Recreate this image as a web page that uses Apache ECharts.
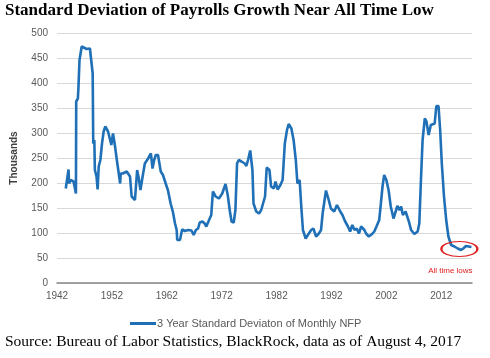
<!DOCTYPE html>
<html><head><meta charset="utf-8">
<script src="https://cdn.jsdelivr.net/npm/echarts@6/dist/echarts.min.js"></script>
<style>html,body{margin:0;padding:0;background:#fff}#c{width:490px;height:358px}</style>
</head><body><div id="c"></div>
<script>
const years = [1943.6,1944.1,1944.2,1944.5,1945.0,1945.2,1945.45,1945.5,1945.8,1945.9,1946.1,1946.5,1946.8,1947.4,1948.0,1948.3,1948.5,1948.6,1948.8,1948.9,1949.2,1949.4,1949.6,1949.9,1950.2,1950.5,1950.8,1951.3,1951.6,1951.9,1952.2,1952.5,1952.9,1953.2,1953.5,1953.6,1954.0,1954.7,1955.0,1955.3,1955.6,1956.2,1956.5,1956.6,1956.9,1957.2,1957.6,1958.0,1958.3,1958.6,1959.1,1959.4,1959.7,1960.0,1960.4,1960.9,1961.3,1961.8,1962.2,1962.7,1963.1,1963.5,1963.8,1963.9,1964.4,1964.8,1965.3,1965.9,1966.5,1966.9,1967.3,1967.7,1968.0,1968.5,1968.9,1969.2,1969.7,1970.1,1970.4,1970.9,1971.5,1972.1,1972.7,1973.1,1973.5,1973.8,1974.2,1974.5,1974.8,1975.1,1975.6,1976.2,1976.5,1976.8,1977.2,1977.6,1977.8,1978.3,1978.8,1979.2,1979.5,1979.9,1980.2,1980.7,1981.0,1981.5,1981.8,1982.2,1982.7,1983.1,1983.5,1983.9,1984.2,1984.7,1985.1,1985.5,1985.8,1986.2,1986.5,1986.8,1987.3,1987.7,1988.3,1988.7,1989.2,1989.7,1990.1,1990.4,1991.0,1991.5,1991.9,1992.5,1993.0,1993.3,1993.6,1994.0,1994.5,1995.0,1995.4,1995.8,1996.2,1996.6,1997.0,1997.4,1998.0,1998.3,1998.8,1999.4,1999.8,2000.2,2000.7,2001.0,2001.3,2001.6,2002.0,2002.4,2002.8,2003.3,2003.6,2004.0,2004.4,2004.7,2005.0,2005.5,2005.7,2006.1,2006.5,2007.1,2007.7,2008.0,2008.3,2008.6,2009.0,2009.3,2009.7,2010.1,2010.4,2010.8,2011.1,2011.5,2011.8,2012.1,2012.5,2012.9,2013.3,2013.8,2014.4,2015.0,2015.6,2016.0,2016.5,2017.0,2017.5];
const nfpStdDev = [189,227,199,206,203,193,179,363,369,389,446,473,473,468,469,466,419,279,286,226,213,187,233,246,279,303,313,303,303,276,299,279,246,223,199,219,219,223,227,213,173,166,166,226,209,186,213,239,239,249,259,229,246,256,256,223,216,199,186,159,143,119,106,86,86,107,104,106,105,96,106,109,121,123,119,113,126,136,183,173,169,179,198,176,143,123,121,146,239,246,243,239,234,246,265,226,159,143,139,146,143,173,231,226,193,189,203,187,196,206,279,306,318,309,286,246,199,206,153,106,89,96,106,109,93,99,106,140,185,166,149,143,156,156,143,136,123,113,103,116,106,109,99,113,106,99,93,98,103,113,126,159,193,216,206,186,153,129,126,154,146,153,136,143,143,123,106,98,103,119,206,286,329,323,296,316,313,319,354,354,306,239,173,126,93,76,73,69,66,69,74,73,72];
const seriesName = '3 Year Standard Deviaton of Monthly NFP';
const titleText = 'Standard Deviation of Payrolls Growth Near All Time Low';
const sourceText = 'Source: Bureau of Labor Statistics, BlackRock, data as of August 4, 2017';
const lowPoint = [2015.3, 68];
const lowLabel = 'All time lows';

const chart = echarts.init(document.getElementById('c'), null, {renderer: 'canvas'});
chart.setOption({
  animation: false,
  title: {
    text: titleText, left: 5, top: 2, padding: 0,
    textStyle: {fontFamily: 'Liberation Serif', fontWeight: 'bold', fontSize: 17, color: '#000'}
  },
  grid: {left: 57, right: 18, top: 33, bottom: 75, containLabel: false},
  legend: {
    data: [seriesName], left: 125, top: 313, icon: 'rect', itemWidth: 26, itemHeight: 3, itemGap: 4,
    textStyle: {fontFamily: 'Liberation Sans', fontSize: 11, color: '#595959', padding: [0,0,0,-4]}
  },
  xAxis: {
    type: 'value', min: 1942, max: 2017.6, interval: 10,
    axisLine: {show: true, lineStyle: {color: '#868686', width: 1.5}},
    axisTick: {show: false},
    splitLine: {show: false},
    axisLabel: {showMaxLabel: false, margin: 8, fontFamily: 'Liberation Sans', fontSize: 10, color: '#595959', formatter: v => String(Math.round(v))}
  },
  yAxis: {
    type: 'value', min: 0, max: 500, interval: 50,
    name: 'Thousands', nameLocation: 'middle', nameGap: 38, nameRotate: 90,
    nameTextStyle: {fontFamily: 'Liberation Sans', fontSize: 10, fontWeight: 'bold', color: '#404040'},
    axisLine: {show: false}, axisTick: {show: false},
    splitLine: {lineStyle: {color: '#d9d9d9', width: 1}},
    axisLabel: {margin: 9, fontFamily: 'Liberation Sans', fontSize: 10, color: '#595959'}
  },
  series: [{
    name: seriesName, type: 'line', showSymbol: false, symbol: 'none',
    data: years.map((y, i) => [y, nfpStdDev[i]]),
    lineStyle: {color: '#1f70b6', width: 2.6},
    itemStyle: {color: '#1f70b6'},
    markPoint: {
      silent: true,
      data: [{
        coord: lowPoint, symbol: 'circle', symbolSize: [36, 15],
        itemStyle: {color: 'rgba(0,0,0,0)', borderColor: '#e02020', borderWidth: 1.5},
        label: {show: true, formatter: lowLabel, position: 'bottom', distance: 10, offset: [-9, 0],
          fontFamily: 'Liberation Sans', fontSize: 8, color: '#e02020'}
      }]
    }
  }],
  graphic: [{
    type: 'text', left: 5, top: 334,
    style: {text: sourceText, fontFamily: 'Liberation Serif', fontSize: 15.5, fill: '#000'}
  }]
});
</script></body></html>
